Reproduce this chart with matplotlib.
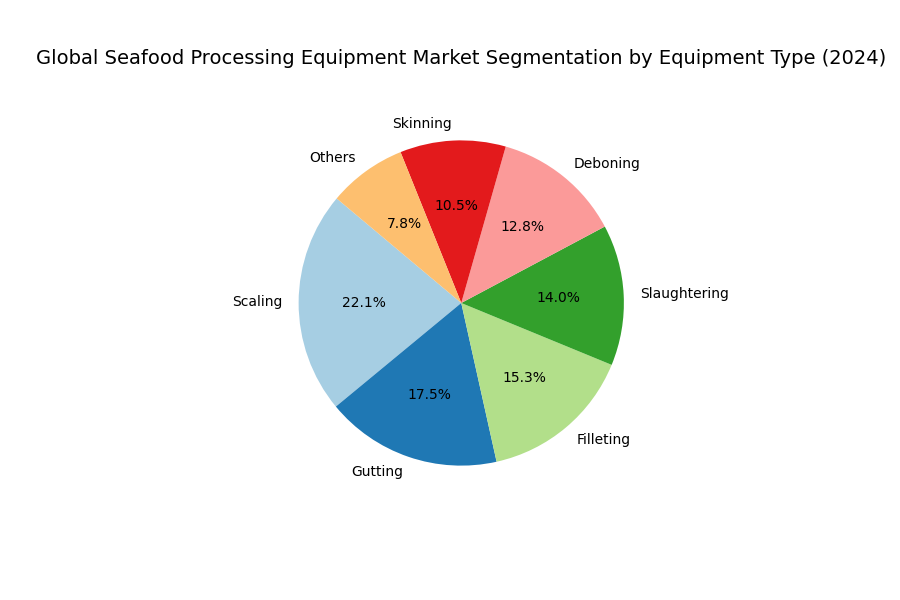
import matplotlib
matplotlib.use("Agg")
import matplotlib.pyplot as plt

labels = ["Scaling", "Gutting", "Filleting", "Slaughtering", "Deboning", "Skinning", "Others"]
shares = [22.1, 17.5, 15.3, 14.0, 12.8, 10.5, 7.8]

colors = plt.cm.Paired.colors[:len(labels)]
fig, ax = plt.subplots(figsize=(9, 6), dpi=100)
ax.pie(shares, labels=labels, autopct="%1.1f%%", startangle=140, colors=colors, radius=0.88)
ax.set_xlim(-1.25, 1.25)
ax.set_ylim(-1.25, 1.25)
ax.set_aspect("equal")
ax.set_title("Global Seafood Processing Equipment Market Segmentation by Equipment Type (2024)", fontsize=14)
fig.savefig("out.png")
